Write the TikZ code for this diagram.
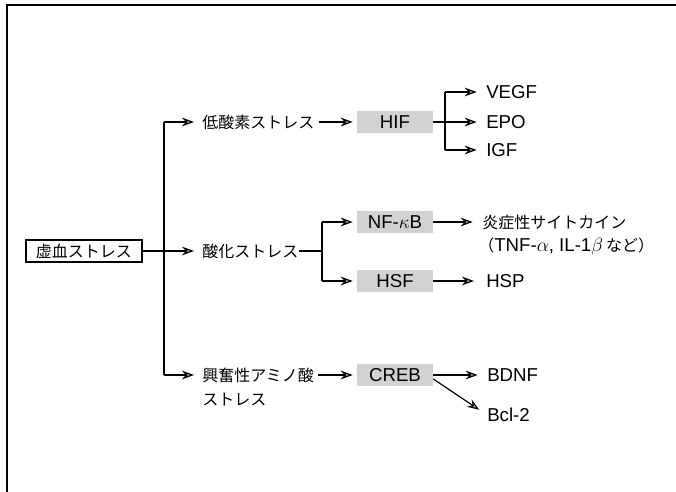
\documentclass[tikz,border=0pt]{standalone}
\usepackage{fontspec}
\setmainfont{Liberation Sans}
\newfontfamily\jp{Noto Sans CJK JP}
\newcommand\jpsmall{\jp\fontsize{12}{14}\selectfont}
\usetikzlibrary{arrows.meta}
\begin{document}
\begin{tikzpicture}[x=0.75pt,y=-0.75pt,
  lat/.style={inner sep=0pt, font=\fontsize{14}{16}\selectfont, anchor=west},
  jtx/.style={inner sep=0pt, font=\jpsmall, anchor=west},
  tf/.style={fill=gray!35, minimum width=57pt, minimum height=16.5pt, inner sep=0pt, font=\fontsize{14}{16}\selectfont},
  arr/.style={-{Stealth[length=9pt,width=6.5pt,inset=3pt,fill=gray!55]}, line width=0.9pt},
  ln/.style={line width=0.9pt}]
\useasboundingbox (0,0) rectangle (676,492);
% frame
\draw[line width=1.1pt] (676,5) -- (7,5) -- (7,492);
% main
\node[draw, line width=0.9pt, minimum width=87pt, minimum height=16.5pt, inner sep=0pt, font=\jpsmall] (main) at (84,251) {虚血ストレス};
\coordinate (t1) at (164,122);
\coordinate (t3) at (164,375);
\draw[ln] (t1) -- (t3);
% branch texts
\node[jtx] (hypo) at (202,122) {低酸素ストレス};
\node[jtx] (ox) at (202,251) {酸化ストレス};
\node[jtx] (exc) at (202,375) {興奮性アミノ酸};
\node[jtx] (exc2) at (202,400) {ストレス};
\draw[arr, shorten >=6pt] (t1) -- (hypo.west);
\draw[arr, shorten >=6pt] (main.east) -- (ox.west);
\draw[arr, shorten >=6pt] (t3) -- (exc.west);
% hypoxia
\node[tf] (hif) at (395,122) {HIF};
\draw[arr, shorten <=3pt, shorten >=3pt] (hypo.east) -- (hif.west);
\coordinate (hs1) at (445,92);
\coordinate (hs3) at (445,150);
\draw[ln] (hs1) -- (hs3);
\node[lat] (vegf) at (486,92) {VEGF};
\node[lat] (epo) at (486,122) {EPO};
\node[lat] (igf) at (486,150) {IGF};
\draw[arr, shorten >=7pt] (hs1) -- (vegf.west);
\draw[arr, shorten >=7pt] (hif.east) -- (epo.west);
\draw[arr, shorten >=7pt] (hs3) -- (igf.west);
% oxidative
\coordinate (os) at (322,251);
\coordinate (os1) at (322,222);
\coordinate (os2) at (322,281);
\draw[ln] (ox.east) -- (os);
\draw[ln] (os1) -- (os2);
\node[tf] (nf) at (395,222) {NF-$\kappa$B};
\node[tf] (hsf) at (395,281) {HSF};
\draw[arr, shorten >=3pt] (os1) -- (nf.west);
\draw[arr, shorten >=3pt] (os2) -- (hsf.west);
\node[jtx] (cyt) at (482,222) {炎症性サイトカイン};
\node[lat] (cyt2) at (478,247) {{\jpsmall （}TNF-$\alpha$, IL-1$\beta$\,{\jpsmall など）}};
\node[lat] (hsp) at (486,281) {HSP};
\draw[arr, shorten >=7pt] (nf.east) -- (cyt.west);
\draw[arr, shorten >=9pt] (hsf.east) -- (hsp.west);
% excitatory
\node[tf] (creb) at (395,375) {CREB};
\draw[arr, shorten <=3pt, shorten >=3pt] (exc.east) -- (creb.west);
\node[lat] (bdnf) at (487,375) {BDNF};
\node[lat] (bcl) at (487,415) {Bcl-2};
\draw[arr, shorten >=7pt] (creb.east) -- (bdnf.west);
\draw[arr, shorten >=7pt] ([yshift=-3pt]creb.east) -- (bcl.west);
\end{tikzpicture}
\end{document}
